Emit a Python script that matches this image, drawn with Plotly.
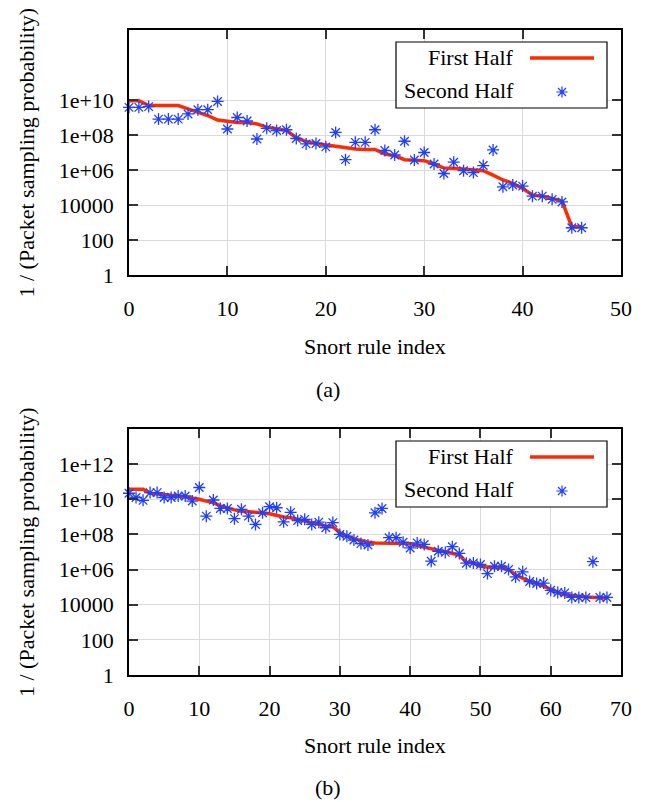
import plotly.graph_objects as go

# ---------------- data ----------------
idx_a = list(range(47))
first_a = [9.1e9, 9.1e9, 4.8e9, 4.8e9, 4.8e9, 4.8e9, 3.1e9, 2.0e9, 1.3e9, 7.2e8,
           5.8e8, 5.2e8, 5.2e8, 4.3e8, 2.8e8, 2.2e8, 1.8e8, 7.1e7, 4.2e7, 3.3e7,
           2.7e7, 2.2e7, 2.0e7, 1.6e7, 1.5e7, 1.5e7, 8.1e6, 6.6e6, 3.9e6, 3.7e6,
           3.4e6, 2.2e6, 1.3e6, 1.26e6, 1.15e6, 1.1e6, 9.1e5, 5.1e5, 2.7e5, 1.7e5,
           8.9e4, 3.7e4, 3.2e4, 2.4e4, 1.7e4, 575, 575]
second_a = [3.8e9, 3.8e9, 4.2e9, 8.1e8, 8.1e8, 8.1e8, 1.6e9, 2.8e9, 2.8e9, 8.3e9,
            2.2e8, 1.0e9, 6.3e8, 5.9e7, 2.4e8, 1.8e8, 2.0e8, 6.3e7, 3.1e7, 3.3e7,
            2.1e7, 1.4e8, 3.9e6, 3.8e7, 3.8e7, 2.0e8, 1.3e7, 7.2e6, 4.4e7, 3.7e6,
            1.0e7, 2.2e6, 6.3e5, 2.8e6, 9.1e5, 7.1e5, 1.8e6, 1.4e7, 1.1e5, 1.4e5,
            1.2e5, 3.2e4, 3.2e4, 2.1e4, 1.5e4, 500, 500]

idx_b = list(range(69))
first_b = [3.7e10, 3.7e10, 3.7e10, 2.2e10, 1.95e10, 1.9e10, 1.7e10, 1.6e10, 1.4e10, 1.26e10,
           1.0e10, 7.9e9, 6.5e9, 4.2e9, 3.1e9, 2.5e9, 2.1e9, 2.0e9, 1.9e9, 1.7e9,
           1.5e9, 1.2e9, 9.8e8, 8.9e8, 7.6e8, 5.8e8, 4.7e8, 3.7e8, 3.0e8, 2.8e8,
           1.26e8, 7.9e7, 5.6e7, 4.6e7, 3.6e7, 3.3e7, 3.3e7, 3.3e7, 3.25e7, 3.2e7,
           3.0e7, 2.3e7, 1.9e7, 1.5e7, 1.26e7, 1.05e7, 7.9e6, 6.8e6, 2.6e6, 2.4e6,
           1.55e6, 1.35e6, 1.26e6, 1.26e6, 1.0e6, 5.1e5, 3.3e5, 2.1e5, 1.7e5, 1.1e5,
           7.2e4, 5.0e4, 3.7e4, 3.2e4, 3.0e4, 2.75e4, 2.6e4, 2.4e4, 2.4e4]
second_b = [2.2e10, 1.26e10, 8.7e9, 2.4e10, 2.4e10, 1.26e10, 1.26e10, 1.55e10, 1.55e10, 7.9e9,
            4.7e10, 1.1e9, 9.1e9, 3.0e9, 3.0e9, 7.9e8, 2.7e9, 1.1e9, 3.7e8, 1.7e9,
            3.8e9, 3.3e9, 5.2e8, 1.8e9, 6.2e8, 7.2e8, 3.7e8, 5.0e8, 2.4e8, 4.7e8,
            1.0e8, 7.9e7, 4.8e7, 3.0e7, 2.5e7, 1.7e9, 3.0e9, 6.5e7, 6.5e7, 3.6e7,
            1.7e7, 3.3e7, 2.7e7, 3.0e6, 1.1e7, 9.5e6, 2.0e7, 8.3e6, 2.3e6, 2.4e6,
            1.95e6, 5.9e5, 1.55e6, 1.55e6, 1.0e6, 3.8e5, 7.4e5, 2.1e5, 1.6e5, 1.7e5,
            6.6e4, 5.0e4, 4.7e4, 2.6e4, 2.6e4, 2.6e4, 2.8e6, 2.6e4, 2.6e4]

series_names = ["First Half", "Second Half"]
yticks_a = [1, 100, 1e4, 1e6, 1e8, 1e10]
yticktext_a = ["1", "100", "10000", "1e+06", "1e+08", "1e+10"]
yticks_b = [1, 100, 1e4, 1e6, 1e8, 1e10, 1e12]
yticktext_b = ["1", "100", "10000", "1e+06", "1e+08", "1e+10", "1e+12"]
xticks_a = [0, 10, 20, 30, 40, 50]
xticks_b = [0, 10, 20, 30, 40, 50, 60, 70]
x_title = "Snort rule index"
y_title = "1 / (Packet sampling probability)"
captions = ["(a)", "(b)"]

# ---------------- layout helpers ----------------
OFF = 8  # page body margin
W, H = 645 - OFF, 802 - OFF
FONT = "Liberation Serif"
FS = 22
RED = "#ff2a00"
BLUE = "#1f3fff"


def px(x):
    return (x - OFF) / W


def py(y):
    return 1 - (y - OFF) / H


L, R = 129, 621
panels = [(30, 275), (429, 675)]
title_offsets = [(72, 115), (70, 112)]

fig = go.Figure()

datasets = [(idx_a, first_a, second_a), (idx_b, first_b, second_b)]
for i, (xs, f, s) in enumerate(datasets):
    xa = "x" if i == 0 else "x2"
    ya = "y" if i == 0 else "y2"
    fig.add_trace(go.Scatter(x=xs, y=f, mode="lines", name=series_names[0],
                             line=dict(color=RED, width=3.5), xaxis=xa, yaxis=ya,
                             showlegend=False, cliponaxis=False))
    fig.add_trace(go.Scatter(x=xs, y=s, mode="markers", name=series_names[1],
                             marker=dict(symbol="asterisk-open", size=10, color=BLUE,
                                         line=dict(color=BLUE, width=1.3)),
                             xaxis=xa, yaxis=ya, showlegend=False, cliponaxis=False))

axis_common = dict(showgrid=True, gridcolor="#dadada", gridwidth=1, zeroline=False,
                   ticks="inside", ticklen=9, tickwidth=1.5, tickcolor="#333333",
                   showline=True, linecolor="black", linewidth=1.5, mirror="ticks",
                   automargin=False,
                   tickfont=dict(family=FONT, size=FS, color="black"))

layout = dict(width=W, height=H, margin=dict(l=0, r=0, t=0, b=0, autoexpand=False),
              paper_bgcolor="white", plot_bgcolor="white", showlegend=False,
              font=dict(family=FONT, size=FS, color="black"))

xt = [xticks_a, xticks_b]
yt = [(yticks_a, yticktext_a), (yticks_b, yticktext_b)]
for i, (top, bot) in enumerate(panels):
    xk = "xaxis" if i == 0 else "xaxis2"
    yk = "yaxis" if i == 0 else "yaxis2"
    layout[xk] = dict(axis_common, domain=[px(L), px(R)], range=[xt[i][0], xt[i][-1]],
                      tickvals=xt[i], anchor="y" if i == 0 else "y2",
                      ticklabelstandoff=13)
    layout[yk] = dict(axis_common, domain=[py(bot), py(top)], type="log", range=[0, 14],
                      tickvals=yt[i][0], ticktext=yt[i][1],
                      anchor="x" if i == 0 else "x2", ticklabelstandoff=9)

fig.update_layout(**layout)

annotations = []
shapes = []
for i, (top, bot) in enumerate(panels):
    mid = (top + bot) / 2
    annotations.append(dict(x=px(26), y=py(mid), xref="paper", yref="paper",
                            text=y_title, textangle=-90, showarrow=False,
                            xanchor="center", yanchor="middle",
                            font=dict(family=FONT, size=FS)))
    annotations.append(dict(x=px(375), y=py(bot + title_offsets[i][0]), xref="paper",
                            yref="paper", text=x_title, showarrow=False,
                            xanchor="center", yanchor="middle",
                            font=dict(family=FONT, size=FS)))
    annotations.append(dict(x=px(328), y=py(bot + title_offsets[i][1]), xref="paper",
                            yref="paper", text=captions[i], showarrow=False,
                            xanchor="center", yanchor="middle",
                            font=dict(family=FONT, size=FS)))
    # legend box
    shapes.append(dict(type="rect", xref="paper", yref="paper",
                       x0=px(396), x1=px(607), y0=py(top + 12), y1=py(top + 78),
                       fillcolor="white", line=dict(color="black", width=1.2),
                       layer="above"))
    shapes.append(dict(type="line", xref="paper", yref="paper",
                       x0=px(530), x1=px(594), y0=py(top + 28), y1=py(top + 28),
                       line=dict(color=RED, width=3.5), layer="above"))
    shapes.append(dict(type="path", xref="paper", yref="paper",
                       xsizemode="pixel", ysizemode="pixel",
                       xanchor=px(562), yanchor=py(top + 62),
                       path="M-5.6,0H5.6M0,-5.6V5.6M-4,-4L4,4M-4,4L4,-4",
                       line=dict(color=BLUE, width=1.2), layer="above"))
    annotations.append(dict(x=px(516), y=py(top + 27), xref="paper", yref="paper",
                            text=series_names[0], showarrow=False, xanchor="right",
                            yanchor="middle", font=dict(family=FONT, size=FS)))
    annotations.append(dict(x=px(516), y=py(top + 60), xref="paper", yref="paper",
                            text=series_names[1], showarrow=False, xanchor="right",
                            yanchor="middle", font=dict(family=FONT, size=FS)))

fig.update_layout(annotations=annotations, shapes=shapes)
fig.write_html("out.html")
